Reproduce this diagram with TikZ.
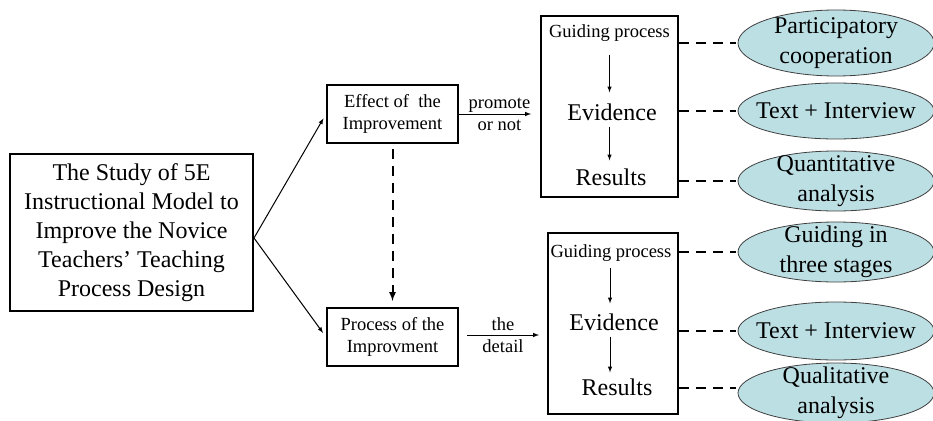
\documentclass[tikz,border=0pt]{standalone}
\usepackage{fontspec}
\setmainfont{Liberation Serif}
\usetikzlibrary{shapes.geometric}
\definecolor{ellblue}{RGB}{188,223,228}

\begin{document}
\begin{tikzpicture}[x=1pt, y=-1pt,
        big/.style={font=\fontsize{24}{29}\selectfont, inner sep=2pt},
        small/.style={font=\fontsize{18.5}{22}\selectfont, inner sep=2pt},
        box/.style={draw, line width=2pt, align=center},
        oval/.style={ellipse, draw=black!75, line width=0.8pt, fill=ellblue, align=center,
            minimum width=196pt, minimum height=60pt, inner xsep=-25pt, inner ysep=-14pt,
            font=\fontsize{24}{29.5}\selectfont},
        flowarrow/.style={-latex, line width=1pt},
        dashline/.style={line width=2pt, dash pattern=on 10pt off 7pt}]
    \useasboundingbox (0,0) rectangle (933,420);

    \node[box, big, minimum width=243pt, minimum height=157pt] (study) at (131.5,232.5) {The Study of 5E\\Instructional Model to\\Improve the Novice\\Teachers' Teaching\\Process Design};
    \node[box, small, minimum width=131pt, minimum height=58pt] (effect) at (392.5,114) {Effect of\ \ the\\Improvement};
    \node[box, small, minimum width=131pt, minimum height=58pt] (process) at (392.5,337) {Process of the\\Improvment};

    \draw[flowarrow, shorten >=5pt] ([yshift=-5.5pt]study.east) -- (effect.west);
    \draw[flowarrow, shorten >=5pt] ([yshift=-5.5pt]study.east) -- (process.west);
    \draw[flowarrow, dashline, shorten <=5pt, shorten >=6pt] (effect.south) -- (process.north);

    % upper branch
    \node[box, minimum width=137pt, minimum height=181pt] (stepsA) at (609.5,106.5) {};
    \node[small] (guideA) at (609.5,33) {Guiding process};
    \node[big] (evidA) at (612,112) {Evidence};
    \node[big] (resA) at (611,177) {Results};
    \draw[flowarrow, shorten <=11pt, shorten >=9pt] (stepsA.center |- guideA.south) -- (stepsA.center |- evidA.north);
    \draw[flowarrow, shorten <=4pt, shorten >=6pt] (stepsA.center |- evidA.south) -- (stepsA.center |- resA.north);
    \draw[flowarrow, shorten >=9pt] (effect.east) -- node[small, align=center] {promote\\or not} (effect.east -| stepsA.west);

    % lower branch
    \node[box, minimum width=130pt, minimum height=181pt] (stepsB) at (613,323.5) {};
    \node[small] (guideB) at (611,253) {Guiding process};
    \node[big] (evidB) at (614,322) {Evidence};
    \node[big] (resB) at (617,387) {Results};
    \draw[flowarrow, shorten <=4.5pt, shorten >=8pt] ([xshift=-3pt]stepsB.center |- guideB.south) -- ([xshift=-3pt]stepsB.center |- evidB.north);
    \draw[flowarrow, shorten <=4pt, shorten >=4pt] ([xshift=-3pt]stepsB.center |- evidB.south) -- ([xshift=-3pt]stepsB.center |- resB.north);
    \draw[flowarrow, shorten <=8pt, shorten >=8pt] ([yshift=2pt]process.east) -- node[small, align=center] {the\\detail} ([yshift=2pt]process.east -| stepsB.west);

    % methods
    \node[oval, minimum height=66pt] (ovalA) at (836,43) {Participatory\\cooperation};
    \node[oval, minimum height=56pt] (ovalB) at (836,111) {Text + Interview};
    \node[oval] (ovalC) at (836,181) {Quantitative\\analysis};
    \node[oval] (ovalD) at (836,252) {Guiding in\\three stages};
    \node[oval, minimum height=58pt] (ovalE) at (836,331) {Text + Interview};
    \node[oval] (ovalF) at (836,393) {Qualitative\\analysis};

    \draw[dashline, shorten >=2pt] (stepsA.east |- ovalA.west) -- (ovalA.west);
    \draw[dashline, shorten >=2pt] (stepsA.east |- ovalB.west) -- (ovalB.west);
    \draw[dashline, shorten >=2pt] (stepsA.east |- ovalC.west) -- (ovalC.west);
    \draw[dashline, shorten >=2pt] (stepsB.east |- ovalD.west) -- (ovalD.west);
    \draw[dashline, shorten >=2pt] (stepsB.east |- ovalE.west) -- (ovalE.west);
    \draw[dashline, shorten >=2pt] ([yshift=5pt]stepsB.east |- ovalF.west) -- ([yshift=5pt]ovalF.west);
\end{tikzpicture}
\end{document}
